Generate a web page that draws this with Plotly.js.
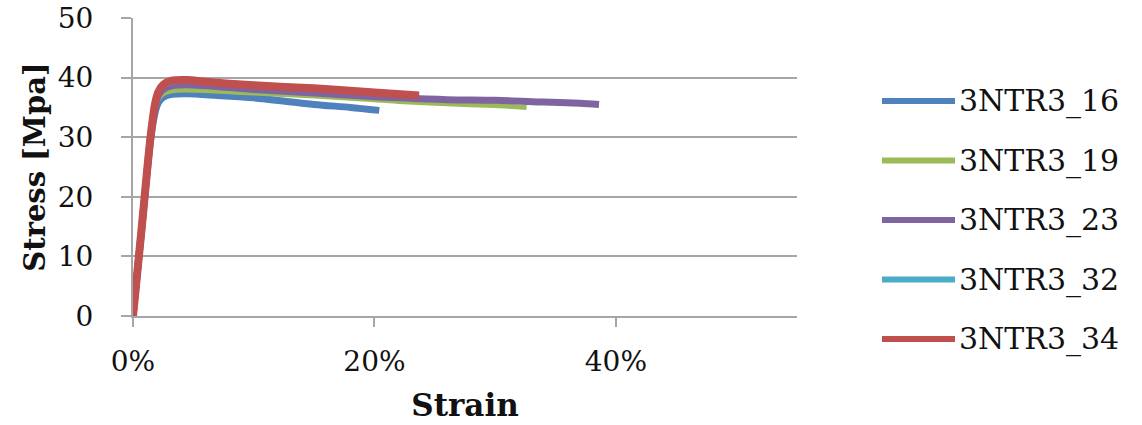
<!DOCTYPE html>
<html>
<head>
<meta charset="utf-8">
<script src="https://cdn.plot.ly/plotly-3.0.1.min.js"></script>
<style>html,body{margin:0;padding:0;background:#fff;}#chart{width:1142px;height:425px;}</style>
</head>
<body>
<div id="chart"></div>
<script>
// Series names
const seriesNames = ["3NTR3_16", "3NTR3_19", "3NTR3_23", "3NTR3_32", "3NTR3_34"];

// Strain (fraction) and stress (MPa)
const strain16 = [0, 0.0073, 0.0145, 0.0185, 0.021, 0.025, 0.032, 0.045, 0.070, 0.100, 0.150, 0.180, 0.204];
const stress16 = [0, 14.7, 29.5, 34.3, 35.8, 36.7, 37.2, 37.3, 37.0, 36.6, 35.5, 35.0, 34.5];

const strain19 = [0, 0.0073, 0.0145, 0.0185, 0.021, 0.025, 0.032, 0.045, 0.100, 0.150, 0.200, 0.220, 0.260, 0.300, 0.326];
const stress19 = [0, 14.9, 29.8, 34.8, 36.4, 37.3, 37.8, 37.9, 37.4, 36.9, 36.3, 36.0, 35.6, 35.3, 35.0];

const strain23 = [0, 0.0073, 0.0145, 0.0185, 0.021, 0.025, 0.032, 0.045, 0.100, 0.150, 0.200, 0.220, 0.260, 0.300, 0.340, 0.370, 0.386];
const stress23 = [0, 15, 30, 35.3, 37.0, 38.0, 38.6, 38.8, 38.0, 37.4, 36.8, 36.6, 36.3, 36.2, 35.9, 35.7, 35.5];

const strain32 = [0, 0.0073, 0.0145, 0.0185, 0.021, 0.025, 0.032, 0.045, 0.060, 0.100, 0.150, 0.200, 0.230];
const stress32 = [0, 15, 30, 35.6, 37.4, 38.6, 39.3, 39.5, 39.3, 38.8, 38.2, 37.5, 37.1];

const strain34 = [0, 0.0073, 0.0145, 0.0185, 0.021, 0.025, 0.032, 0.045, 0.060, 0.100, 0.150, 0.200, 0.237];
const stress34 = [0, 15, 30, 35.8, 37.6, 38.8, 39.5, 39.6, 39.3, 38.7, 38.2, 37.5, 37.0];

const seriesX = [strain16, strain19, strain23, strain32, strain34];
const seriesY = [stress16, stress19, stress23, stress32, stress34];
const colors = ["#4f81bd", "#9bbb59", "#8064a2", "#4bacc6", "#c0504d"];
const widths = [7, 5, 7, 6, 8];

const xTickVals = [0, 0.2, 0.4];
const xTickText = ["0%", "20%", "40%"];
const yTickVals = [0, 10, 20, 30, 40, 50];

const FONT = "DejaVu Serif, Georgia, serif";

const W = 1142, H = 425;
const M = {l: 133, r: 345, t: 18, b: 109};
const plotW = W - M.l - M.r, plotH = H - M.t - M.b;
const px2x = px => (px - M.l) / plotW;
const py2y = py => (H - M.b - py) / plotH;

const traces = seriesNames.map((n, i) => ({
  type: "scatter",
  mode: "lines",
  name: n,
  x: seriesX[i],
  y: seriesY[i],
  line: {color: colors[i], width: widths[i], shape: "spline", smoothing: 0.8},
  hoverinfo: "skip",
  showlegend: false
}));

// Legend drawn as shapes + text annotations (long line keys like the original)
const legendShapes = [], legendAnns = [];
seriesNames.forEach((n, i) => {
  const cy = py2y(101 + i * 59.5);
  legendShapes.push({type: "line", xref: "paper", yref: "paper",
    x0: px2x(882), x1: px2x(955), y0: cy, y1: cy,
    line: {color: colors[i], width: 6}});
  legendAnns.push({xref: "paper", yref: "paper", x: px2x(957), y: cy,
    xanchor: "left", yanchor: "middle", showarrow: false, text: n,
    font: {family: FONT, size: 30, color: "#111"}});
});

const layout = {
  width: W,
  height: H,
  paper_bgcolor: "#ffffff",
  plot_bgcolor: "#ffffff",
  margin: M,
  showlegend: false,
  shapes: legendShapes,
  annotations: legendAnns,
  xaxis: {
    range: [0, 0.55],
    tickvals: xTickVals,
    ticktext: xTickText,
    ticks: "outside",
    ticklen: 9,
    tickwidth: 2,
    tickcolor: "#a6a6a6",
    ticklabelstandoff: 10,
    showgrid: false,
    zeroline: false,
    showline: true,
    linecolor: "#a6a6a6",
    linewidth: 2,
    tickfont: {family: FONT, size: 28, color: "#111"},
    title: {text: "<b>Strain</b>", font: {family: FONT, size: 31, color: "#111"}, standoff: 18}
  },
  yaxis: {
    range: [0, 50],
    tickvals: yTickVals,
    ticks: "outside",
    ticklen: 10,
    tickwidth: 2,
    tickcolor: "#a6a6a6",
    ticklabelstandoff: 22,
    showgrid: true,
    gridcolor: "#a6a6a6",
    gridwidth: 2,
    zeroline: false,
    showline: true,
    linecolor: "#a6a6a6",
    linewidth: 2,
    tickfont: {family: FONT, size: 28, color: "#111"},
    title: {text: "<b>Stress [Mpa]</b>", font: {family: FONT, size: 29, color: "#111"}, standoff: 4}
  }
};

Plotly.newPlot("chart", traces, layout, {displayModeBar: false, staticPlot: true});
</script>
</body>
</html>
